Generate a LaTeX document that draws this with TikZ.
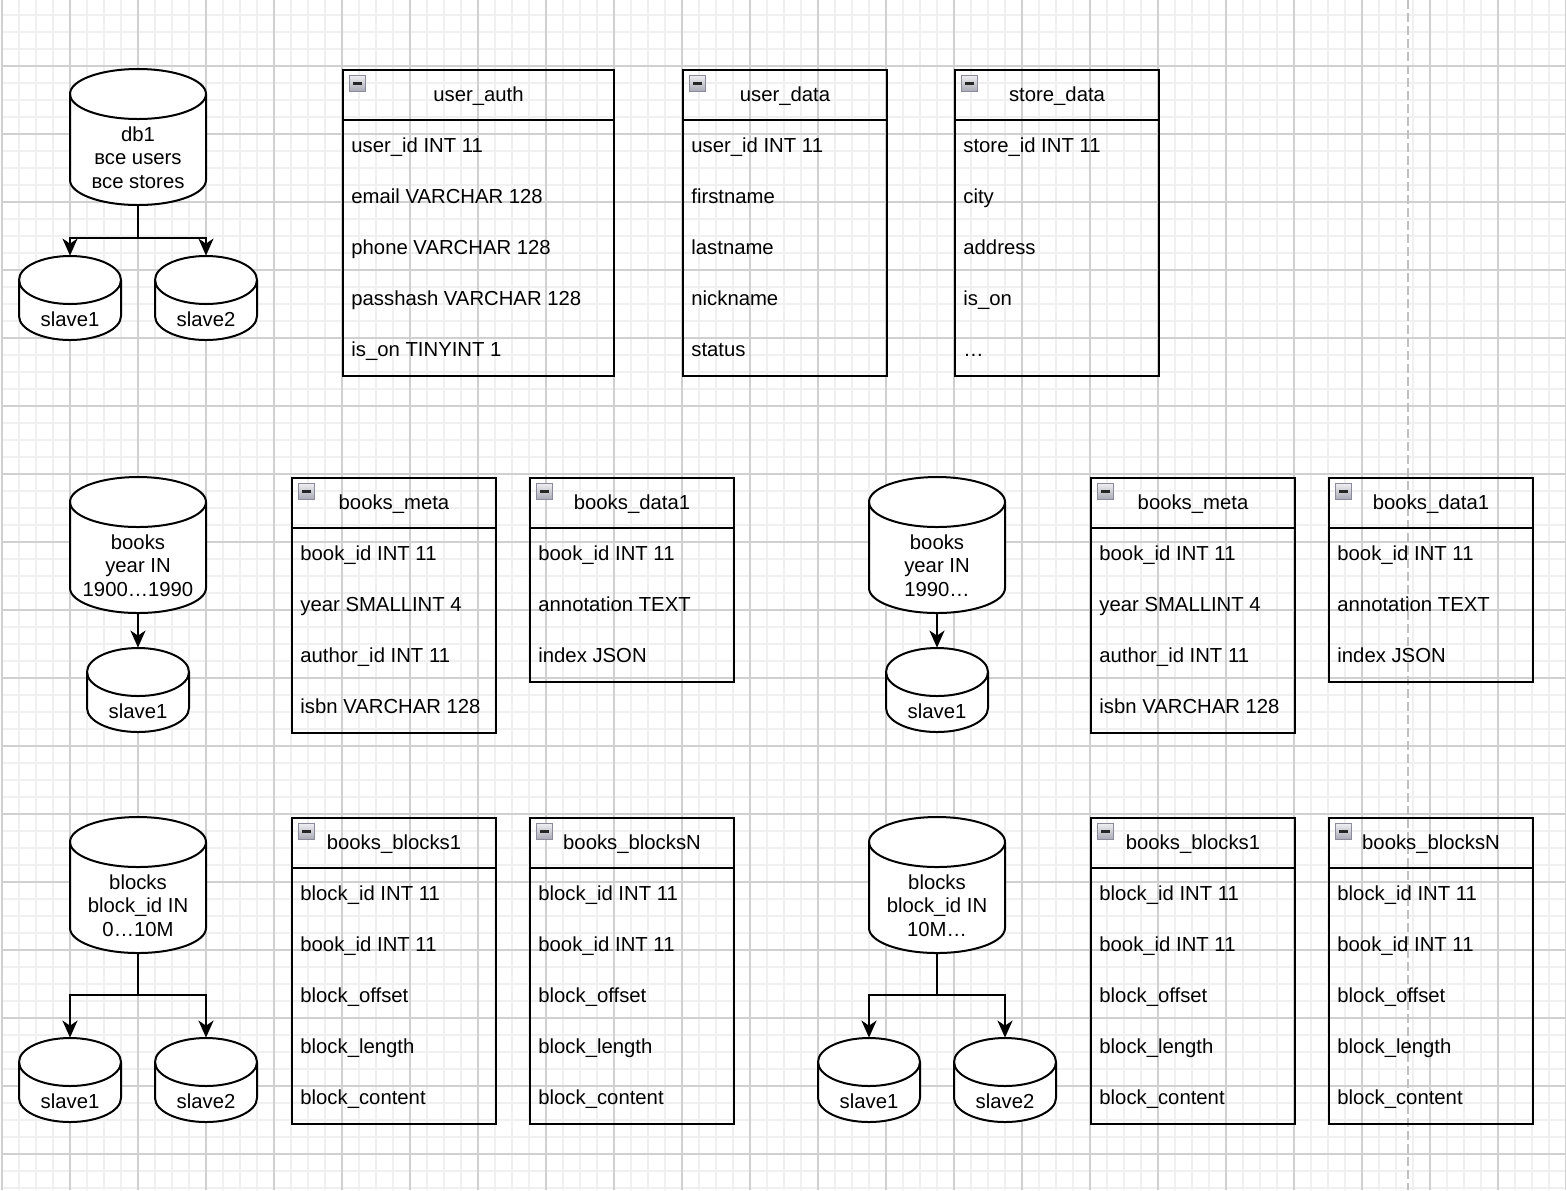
\documentclass[tikz,border=0pt]{standalone}
\usepackage{fontspec}
\setmainfont{Liberation Sans}
\usetikzlibrary{arrows.meta,calc}
\definecolor{gridminor}{HTML}{F0F0F0}
\definecolor{gridmajor}{HTML}{D0D0D0}
\definecolor{guide}{HTML}{C0C0C0}
\definecolor{icontop}{HTML}{EEEEF2}
\definecolor{iconbot}{HTML}{A8A8B4}
\definecolor{iconedge}{HTML}{8A8A9A}
\tikzset{
 gminor/.style={draw=gridminor, line width=1pt},
 gmajor/.style={draw=gridmajor, line width=0.6pt},
 guideline/.style={draw=guide, line width=1pt, dash pattern=on 4.5pt off 2pt},
 tablebox/.style={draw=black, line width=1pt, inner sep=0pt},
 hline/.style={draw=black, line width=1pt},
 celltext/.style={font=\fontsize{10.15}{12}\selectfont, inner sep=0pt, text height=7.2pt, text depth=0pt},
 iconbox/.style={draw=iconedge, line width=0.5pt, top color=icontop, bottom color=iconbot, minimum size=8pt, inner sep=0pt},
 iconbar/.style={draw=black!85, line width=1.4pt},
 cylframe/.style={inner sep=0pt},
 cylline/.style={draw=black, fill=white, line width=1pt},
 cylarc/.style={draw=black, line width=1pt},
 cyllabel/.style={font=\fontsize{10.15}{11.75}\selectfont, align=center, inner sep=0pt},
 conn/.style={draw=black, line width=1pt, -{Stealth[length=8.5pt, width=7.5pt, inset=2.5pt]}},
}
% #1 name, #2 left x, #3 top y, #4 width, #5 number of rows, #6 title, #7 rows
\newcommand\dbtable[7]{%
 \pgfmathsetmacro\tabW{#4*0.5}%
 \pgfmathsetmacro\tabH{51*(#5+1)*0.5}%
 \node[tablebox, minimum width=\tabW pt, minimum height=\tabH pt, anchor=north west] (#1) at (#2,#3) {};
 \draw[hline] ($(#1.north west)+(0,51)$) -- ($(#1.north east)+(0,51)$);
 \node[celltext] (#1-title) at ($(#1.north)+(0,25.5)$) {#6};
 \node[iconbox, anchor=north west] (#1-icon) at ($(#1.north west)+(7,6)$) {};
 \draw[iconbar] ($(#1-icon.west)+(4,0)$) -- ($(#1-icon.east)+(-4,0)$);
 \foreach \rowtxt [count=\rowidx] in {#7} {
   \node[celltext, anchor=west] (#1-r\rowidx) at ($(#1.north west)+(9,{25.5+51*\rowidx})$) {\rowtxt};
 }
}
% #1 name, #2 centre x, #3 top y, #4 bottom y, #5 width, #6 ellipse half height
\newcommand\dbcyl[6]{%
 \pgfmathsetmacro\cylW{#5*0.5}%
 \pgfmathsetmacro\cylH{(#4-#3)*0.5}%
 \pgfmathsetmacro\cylRX{#5*0.25}%
 \pgfmathsetmacro\cylRY{#6*0.5}%
 \node[cylframe, minimum width=\cylW pt, minimum height=\cylH pt] (#1) at (#2,{(#3+#4)/2}) {};
 \path[cylline] ({#2-#5/2},{#3+#6}) -- ({#2-#5/2},{#4-#6})
   arc[start angle=180, end angle=360, x radius=\cylRX pt, y radius=\cylRY pt]
   -- ({#2+#5/2},{#3+#6})
   arc[start angle=0, end angle=180, x radius=\cylRX pt, y radius=\cylRY pt] -- cycle;
 \draw[cylarc] ({#2-#5/2},{#3+#6}) arc[start angle=180, end angle=360, x radius=\cylRX pt, y radius=\cylRY pt];
}
\begin{document}
\begin{tikzpicture}[x=0.5pt, y=-0.5pt]
\useasboundingbox (0,0) rectangle (1566,1190);
\begin{scope}
\clip (0,0) rectangle (1566,1190);
\foreach \gi in {0,...,92} \draw[gminor] ({2+17*\gi},0) -- ({2+17*\gi},1190);
\foreach \gj in {1,...,70} \draw[gminor] (2,{-2+17*\gj}) -- (1566,{-2+17*\gj});
\foreach \gi in {0,4,...,92} \draw[gmajor] ({2+17*\gi},0) -- ({2+17*\gi},1190);
\foreach \gj in {4,8,...,68} \draw[gmajor] (2,{-2+17*\gj}) -- (1566,{-2+17*\gj});
\draw[guideline] (1408,0) -- (1408,1190);
\end{scope}

% tables
\dbtable{ua}{342}{69}{271}{5}{user\_auth}{user\_id INT 11, email VARCHAR 128, phone VARCHAR 128, passhash VARCHAR 128, is\_on TINYINT 1}
\dbtable{ud}{682}{69}{204}{5}{user\_data}{user\_id INT 11, firstname, lastname, nickname, status}
\dbtable{sd}{954}{69}{204}{5}{store\_data}{store\_id INT 11, city, address, is\_on, …}
\dbtable{bma}{291}{477}{204}{4}{books\_meta}{book\_id INT 11, year SMALLINT 4, author\_id INT 11, isbn VARCHAR 128}
\dbtable{bda}{529}{477}{204}{3}{books\_data1}{book\_id INT 11, annotation TEXT, index JSON}
\dbtable{bmb}{1090}{477}{204}{4}{books\_meta}{book\_id INT 11, year SMALLINT 4, author\_id INT 11, isbn VARCHAR 128}
\dbtable{bdb}{1328}{477}{204}{3}{books\_data1}{book\_id INT 11, annotation TEXT, index JSON}
\dbtable{bba}{291}{817}{204}{5}{books\_blocks1}{block\_id INT 11, book\_id INT 11, block\_offset, block\_length, block\_content}
\dbtable{bna}{529}{817}{204}{5}{books\_blocksN}{block\_id INT 11, book\_id INT 11, block\_offset, block\_length, block\_content}
\dbtable{bbb}{1090}{817}{204}{5}{books\_blocks1}{block\_id INT 11, book\_id INT 11, block\_offset, block\_length, block\_content}
\dbtable{bnb}{1328}{817}{204}{5}{books\_blocksN}{block\_id INT 11, book\_id INT 11, block\_offset, block\_length, block\_content}

% cylinders
\dbcyl{db1}{138}{69}{205}{136}{25}
\node[cyllabel] (db1-t) at (138,159.8) {\strut db1\\\strut все users\\\strut все stores};
\dbcyl{sa1}{70}{256}{340}{102}{24}
\node[celltext] (sa1-t) at (70,319.5) {slave1};
\dbcyl{sa2}{206}{256}{340}{102}{24}
\node[celltext] (sa2-t) at (206,319.5) {slave2};

\dbcyl{bk1}{138}{477}{613}{136}{25}
\node[cyllabel] (bk1-t) at (138,567.8) {\strut books\\\strut year IN\\\strut 1900…1990};
\dbcyl{sb1}{138}{648}{732}{102}{24}
\node[celltext] (sb1-t) at (138,711.5) {slave1};

\dbcyl{bk2}{937}{477}{613}{136}{25}
\node[cyllabel] (bk2-t) at (937,567.8) {\strut books\\\strut year IN\\\strut 1990…};
\dbcyl{sb2}{937}{648}{732}{102}{24}
\node[celltext] (sb2-t) at (937,711.5) {slave1};

\dbcyl{bl1}{138}{817}{953}{136}{25}
\node[cyllabel] (bl1-t) at (138,907.8) {\strut blocks\\\strut block\_id IN\\\strut 0…10M};
\dbcyl{sc1}{70}{1038}{1122}{102}{24}
\node[celltext] (sc1-t) at (70,1101.5) {slave1};
\dbcyl{sc2}{206}{1038}{1122}{102}{24}
\node[celltext] (sc2-t) at (206,1101.5) {slave2};

\dbcyl{bl2}{937}{817}{953}{136}{25}
\node[cyllabel] (bl2-t) at (937,907.8) {\strut blocks\\\strut block\_id IN\\\strut 10M…};
\dbcyl{sc3}{869}{1038}{1122}{102}{24}
\node[celltext] (sc3-t) at (869,1101.5) {slave1};
\dbcyl{sc4}{1005}{1038}{1122}{102}{24}
\node[celltext] (sc4-t) at (1005,1101.5) {slave2};

% connectors
\draw[conn] (db1.south) -- ++(0,33) -| (sa1.north);
\draw[conn] (db1.south) -- ++(0,33) -| (sa2.north);
\draw[conn] (bk1.south) -- (sb1.north);
\draw[conn] (bk2.south) -- (sb2.north);
\draw[conn] (bl1.south) -- ++(0,42) -| (sc1.north);
\draw[conn] (bl1.south) -- ++(0,42) -| (sc2.north);
\draw[conn] (bl2.south) -- ++(0,42) -| (sc3.north);
\draw[conn] (bl2.south) -- ++(0,42) -| (sc4.north);
\end{tikzpicture}
\end{document}
